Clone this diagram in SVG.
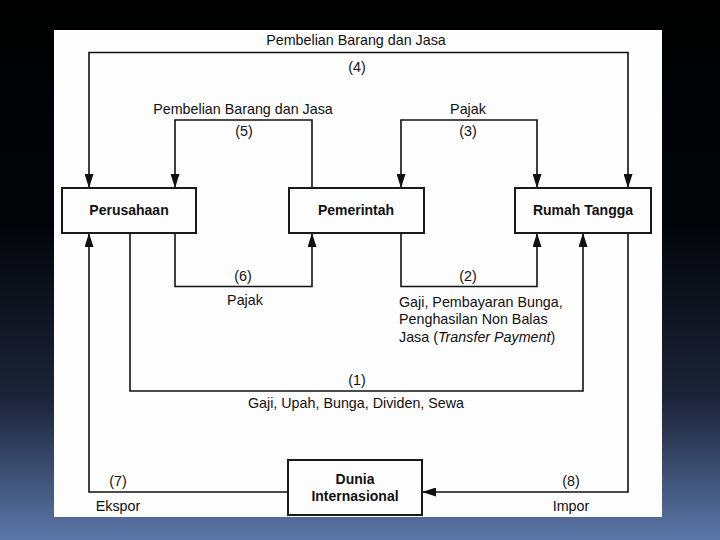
<svg xmlns="http://www.w3.org/2000/svg" width="720" height="540" viewBox="0 0 720 540">
<defs>
<linearGradient id="bg" x1="0" y1="0" x2="0" y2="1">
<stop offset="0" stop-color="#000000"/>
<stop offset="0.42" stop-color="#030509"/>
<stop offset="0.74" stop-color="#1c2438"/>
<stop offset="1" stop-color="#5b77a8"/>
</linearGradient>
<marker id="arr" viewBox="0 0 14 9" refX="14" refY="4.5" markerWidth="14" markerHeight="9" markerUnits="userSpaceOnUse" orient="auto-start-reverse">
<path d="M0,0 L14,4.5 L0,9 z" fill="#111"/>
</marker>
<style>
.box{fill:#fdfdfd;stroke:#1a1a1a;stroke-width:2}
.bl{font-family:"Liberation Sans",Arial,sans-serif;font-size:14px;font-weight:bold;fill:#111;text-anchor:middle}
.lb{font-family:"Liberation Sans",Arial,sans-serif;font-size:14.3px;fill:#111}
.c{text-anchor:middle}
.ln{fill:none;stroke:#111;stroke-width:1.6}
</style>
</defs>
<rect x="0" y="0" width="720" height="540" fill="url(#bg)"/>
<rect x="54" y="30" width="608" height="487" fill="#fdfdfd"/>

<g id="connectors">
<path id="c4" class="ln" d="M89,188 V52.5 H628 V188" marker-start="url(#arr)" marker-end="url(#arr)"/>
<path id="c5" class="ln" d="M312,188 V120 H175 V188" marker-end="url(#arr)"/>
<path id="c3" class="ln" d="M401,188 V120 H537 V188" marker-start="url(#arr)" marker-end="url(#arr)"/>
<path id="c6" class="ln" d="M175,233 V286.5 H312 V233" marker-end="url(#arr)"/>
<path id="c2" class="ln" d="M401,233 V286.5 H537 V233" marker-end="url(#arr)"/>
<path id="c1" class="ln" d="M130,233 V391 H583 V233" marker-end="url(#arr)"/>
<path id="c7" class="ln" d="M288,492 H89 V233" marker-end="url(#arr)"/>
<path id="c8" class="ln" d="M628,233 V492 H422" marker-end="url(#arr)"/>
</g>

<g id="labels">
<text class="lb c" x="356" y="45">Pembelian Barang dan Jasa</text>
<text class="lb c" x="357" y="72">(4)</text>
<text class="lb c" x="243" y="114">Pembelian Barang dan Jasa</text>
<text class="lb c" x="244" y="136">(5)</text>
<text class="lb c" x="468" y="114">Pajak</text>
<text class="lb c" x="468" y="136">(3)</text>
<text class="lb c" x="243" y="281">(6)</text>
<text class="lb c" x="245" y="305">Pajak</text>
<text class="lb c" x="468" y="281">(2)</text>
<text class="lb" x="399" y="307">Gaji, Pembayaran Bunga,</text>
<text class="lb" x="399" y="324">Penghasilan Non Balas</text>
<text class="lb" x="399" y="342">Jasa (<tspan font-style="italic">Transfer Payment</tspan>)</text>
<text class="lb c" x="357" y="385">(1)</text>
<text class="lb c" x="356" y="408">Gaji, Upah, Bunga, Dividen, Sewa</text>
<text class="lb c" x="118" y="486">(7)</text>
<text class="lb c" x="118" y="511">Ekspor</text>
<text class="lb c" x="571" y="486">(8)</text>
<text class="lb c" x="571" y="511">Impor</text>
</g>

<g id="perusahaan">
<rect class="box" x="62" y="188" width="134" height="45"/>
<text class="bl" x="129" y="215">Perusahaan</text>
</g>
<g id="pemerintah">
<rect class="box" x="289" y="188" width="135" height="45"/>
<text class="bl" x="356" y="215">Pemerintah</text>
</g>
<g id="rumah-tangga">
<rect class="box" x="515" y="188" width="136" height="45"/>
<text class="bl" x="583" y="215">Rumah Tangga</text>
</g>
<g id="dunia-internasional">
<rect class="box" x="288" y="460" width="134" height="55"/>
<text class="bl" x="355" y="484">Dunia</text>
<text class="bl" x="355" y="501">Internasional</text>
</g>
</svg>
